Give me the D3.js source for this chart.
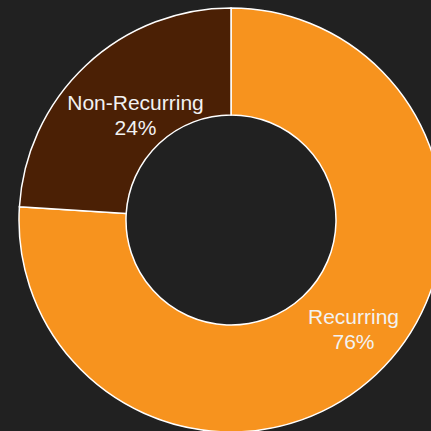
<!DOCTYPE html>
<html>
<head>
<meta charset="utf-8">
<script src="https://cdn.jsdelivr.net/npm/d3@7"></script>
<style>
  html, body { margin: 0; padding: 0; background: #212121; }
  svg { display: block; }
</style>
</head>
<body>
<svg id="chart" width="431" height="431"></svg>
<script>
// chart data
const categories = ["Recurring", "Non-Recurring"];
const values = [76, 24];
const labels = ["76%", "24%"];

const colors = ["#f7931e", "#4b2005"];

const width = 431, height = 431;
const cx = 231, cy = 220;
const outerR = 212, innerR = 105;

const svg = d3.select("#chart");
svg.append("rect").attr("width", width).attr("height", height).attr("fill", "#212121");

const g = svg.append("g").attr("transform", `translate(${cx},${cy})`);

// Recurring starts at 12 o'clock and goes clockwise
const pie = d3.pie().sort(null).value(d => d);
const arc = d3.arc().innerRadius(innerR).outerRadius(outerR);

const arcs = pie(values);

g.selectAll("path")
    .data(arcs)
    .enter()
    .append("path")
    .attr("d", arc)
    .attr("fill", (d, i) => colors[i])
    .attr("stroke", "#ffffff")
    .attr("stroke-width", 1.5);

// nudges so the text sits like in the original
const nudge = [[14, -7], [13, 11]];

const text = g.selectAll("text")
    .data(arcs)
    .enter()
    .append("text")
    .attr("transform", (d, i) => {
        const c = arc.centroid(d);
        return `translate(${c[0] + nudge[i][0]}, ${c[1] + nudge[i][1]})`;
    })
    .attr("text-anchor", "middle")
    .style("fill", "#f2f2f2")
    .style("font-size", "21px")
    .style("font-family", "'Liberation Sans', Arial, sans-serif");

text.append("tspan")
    .attr("x", 0)
    .attr("y", -5)
    .text((d, i) => categories[i]);

text.append("tspan")
    .attr("x", 0)
    .attr("y", 20)
    .text((d, i) => labels[i]);
</script>
</body>
</html>
